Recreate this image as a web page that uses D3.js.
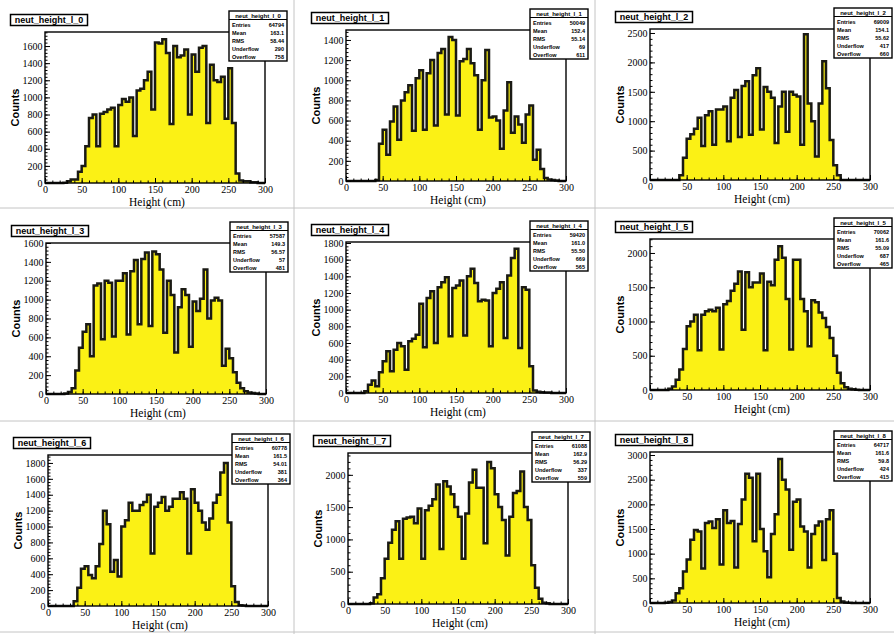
<!DOCTYPE html>
<html><head><meta charset="utf-8">
<script src="https://cdn.jsdelivr.net/npm/d3@7/dist/d3.min.js"></script>
<style>
body{margin:0;background:#fff;}
svg{display:block;}
</style></head><body>
<svg id="c" width="894" height="634"></svg>
<script>
// ---- data (bins of 5 cm from 0 to 300 cm) ----
const xDomain = [0, 300];
const xTickLabels = [0, 50, 100, 150, 200, 250, 300];
const histNames = ["neut_height_l_0","neut_height_l_1","neut_height_l_2","neut_height_l_3","neut_height_l_4","neut_height_l_5","neut_height_l_6","neut_height_l_7","neut_height_l_8"];
const counts0 = [0,0,0,0,0,3,20,40,40,130, 200,430,760,800,430, 810,830,860,880,430, 910,980,950,1000,550, 1080,1100,1200,1300,860, 1640,1630,1680,1520,690, 1600,1470,1490,1560,800, 1500,1300,1580,1600,700, 1380,1200,1180,1240,750, 1340,700,110,30,20, 20,10,10,0,0];
const counts1 = [0,0,0,0,0,0,0,0,10,370, 510,260,590,740,410, 800,880,950,500,1020, 1100,510,1070,1200,550, 1270,1310,660,1430,1400, 650,1190,1210,1310,1170, 1050,510,1000,1300,630, 640,600,320,700,980, 480,640,560,380,660, 750,210,310,120,30, 15,10,5,0,0];
const counts2 = [0,0,0,0,0,0,0,0,80,380, 700,780,870,1060,580, 1100,1170,600,1200,1200, 1250,660,1400,1530,730, 1600,1680,770,1780,1900, 860,1580,1500,1400,630, 1250,1500,820,1500,1450, 1420,600,2480,1300,1000, 400,1300,2020,1560,680, 250,80,0,0,0, 0,0,0,0,0];
const counts3 = [0,0,0,0,0,5,20,60,250,490, 660,740,400,1150,1170, 580,1200,1180,610,1200, 1200,1280,630,1300,1420, 740,1430,1500,720,1510, 1480,1320,650,1200,1050, 440,920,1110,1050,500, 980,880,1010,1320,800, 990,1020,990,300,480, 380,230,120,60,30, 15,10,5,0,0];
const counts4 = [0,0,0,0,0,20,100,150,80,250, 380,500,260,520,600, 560,280,620,650,700, 1070,550,1140,1220,600, 1270,1330,1390,680,1260, 1290,1350,690,1400,1490, 1320,1100,1120,1110,560, 1200,1250,1330,660,1410, 1620,1730,540,1270,1240, 320,30,15,10,5, 5,0,0,0,0];
const counts5 = [0,0,0,0,0,20,50,150,300,600, 930,1000,1100,580,1100, 1150,1170,1150,1200,590, 1250,1300,1450,1550,1730, 880,1720,1500,1570,1570, 1700,580,1580,1530,1900, 2100,1930,1330,590,1900, 1900,1330,1150,640,1310, 1280,1130,1050,920,760, 500,250,100,40,20, 10,5,0,0,0];
const counts6 = [0,0,0,0,0,0,0,60,230,470, 500,390,350,500,780, 1200,1030,430,580,370, 1000,1080,1300,1200,1200, 1270,1310,1400,660,1250, 1300,1370,1200,1250,1350, 1350,1430,1350,660,1470, 1300,1200,1050,960,1100, 1300,1400,1680,1800,1050, 250,50,10,5,0, 0,0,0,0,0];
const counts7 = [0,0,0,0,0,0,10,100,150,400, 700,950,1150,1280,700, 1320,1340,1350,1250,1480, 700,1450,1520,1620,1850, 850,1900,1820,1700,1500, 1350,700,1400,1880,2080, 1800,1800,940,2200,2100, 1700,1500,1300,750,1350, 1720,1750,2050,1500,1300, 600,250,80,20,10, 0,0,0,0,0];
const counts8 = [0,0,0,0,5,20,50,200,300,640, 880,1280,1480,1450,700, 1620,1650,1520,1700,780, 1880,1620,1660,720,1600, 2100,2620,2540,1250,2620, 1500,1050,520,1400,1800, 2920,2500,2300,1080,2050, 2100,1550,1450,720,1400, 1570,1650,870,1700,1880, 1000,100,30,10,5, 0,0,0,0,0];
const yAxisMax = [1764, 1499, 2568, 1600, 1812, 2204, 1900, 2338, 3061];
const yTickStep = [200, 200, 500, 200, 200, 500, 200, 500, 500];
const statLabels = ["Entries", "Mean", "RMS", "Underflow", "Overflow"];
const statEntries = ["64794", "50049", "69009", "57587", "59420", "70062", "60778", "61088", "64717"];
const statMean = ["163.1", "152.4", "154.1", "149.3", "161.0", "161.6", "161.5", "162.9", "161.6"];
const statRMS = ["58.44", "55.14", "55.62", "56.57", "55.50", "55.09", "54.01", "56.29", "59.8"];
const statUnder = ["290", "69", "417", "57", "669", "687", "381", "337", "424"];
const statOver = ["758", "611", "660", "481", "565", "465", "364", "559", "415"];

// ---- layout ----
const frames = [[45,32],[346,30],[650,29],[46,243],[346,242],[650,239],[48,455],[348,453],[650,452]];
const FW = 220, FH = 151;
const YELLOW = "#fbf115";
const allCounts = [counts0,counts1,counts2,counts3,counts4,counts5,counts6,counts7,counts8];

const svg = d3.select("#c");
svg.append("rect").attr("width",894).attr("height",634).attr("fill","#fff");

// pad borders
const padLines = svg.append("g").attr("stroke","#c4c4c4").attr("stroke-width",1);
[[294,0,294,634],[595,0,595,634],[0,208,894,208],[0,421,894,421],[0,632,894,632]].forEach(l=>{
  padLines.append("line").attr("x1",l[0]).attr("y1",l[1]).attr("x2",l[2]).attr("y2",l[3]);
});

allCounts.forEach((counts, p) => {
  const [fx, fy] = frames[p];
  const g = svg.append("g").attr("transform", `translate(${fx},${fy})`);
  const x = d3.scaleLinear().domain(xDomain).range([0, FW]);
  const y = d3.scaleLinear().domain([0, yAxisMax[p]]).range([FH, 0]);
  const bw = (xDomain[1]-xDomain[0]) / counts.length;
  const pts = [];
  counts.forEach((v, i) => { pts.push([xDomain[0]+i*bw, v]); pts.push([xDomain[0]+(i+1)*bw, v]); });

  g.append("path").datum(pts)
    .attr("d", d3.area().x(d=>x(d[0])).y0(y(0)).y1(d=>y(d[1])))
    .attr("fill", YELLOW);
  g.append("path").datum([[xDomain[0],0], ...pts, [xDomain[1],0]])
    .attr("d", d3.line().x(d=>x(d[0])).y(d=>y(d[1])))
    .attr("fill","none").attr("stroke","#1a1a14").attr("stroke-width",2.5).attr("stroke-linejoin","miter");

  // x axis
  const xa = g.append("g").attr("transform", `translate(0,${FH})`)
    .call(d3.axisBottom(x).tickValues(xTickLabels).tickSize(-5).tickPadding(2.5).tickFormat(d3.format("d")));
  const xm = g.append("g").attr("transform", `translate(0,${FH})`)
    .call(d3.axisBottom(x).tickValues(d3.range(0, 301, 10)).tickSize(-2.5).tickFormat(""));
  // y axis
  const yt = d3.range(0, yAxisMax[p] + 1, yTickStep[p]);
  const ya = g.append("g")
    .call(d3.axisLeft(y).tickValues(yt).tickSize(-5).tickPadding(2.5).tickFormat(d3.format("d")));
  const ym = g.append("g")
    .call(d3.axisLeft(y).tickValues(d3.range(0, yAxisMax[p], yTickStep[p]/5)).tickSize(-2.5).tickFormat(""));
  [xa, xm, ya, ym].forEach(a => {
    a.select(".domain").remove();
    a.selectAll("line").attr("stroke","#000").attr("stroke-width",1);
    a.selectAll("text").attr("font-family","'Liberation Serif', serif").attr("font-size",10).attr("fill","#000");
  });

  // frame
  g.append("rect").attr("width",FW).attr("height",FH).attr("fill","none").attr("stroke","#000").attr("stroke-width",1.4);

  // axis titles
  g.append("text").attr("x",112).attr("y",FH+23).attr("text-anchor","middle")
    .attr("font-family","'Liberation Serif', serif").attr("font-size",11.5).text("Height (cm)");
  g.append("text").attr("transform",`translate(-26,${FH/2}) rotate(-90)`).attr("text-anchor","middle")
    .attr("font-family","'Liberation Sans', Arial, sans-serif").attr("font-weight","bold").attr("font-size",11).text("Counts");

  // title box
  const tb = g.append("g").attr("transform","translate(-34.5,-17.5)");
  tb.append("rect").attr("width",77).attr("height",11).attr("fill","#fff").attr("stroke","#000").attr("stroke-width",1.5);
  tb.append("text").attr("x",38.5).attr("y",8.8).attr("text-anchor","middle")
    .attr("font-family","'Liberation Sans', Arial, sans-serif").attr("font-weight","bold").attr("font-size",9).text(histNames[p]);

  // stats box
  const sb = g.append("g").attr("transform","translate(184,-21)");
  sb.append("rect").attr("width",58).attr("height",50).attr("fill","#fff").attr("stroke","#000").attr("stroke-width",1.4);
  sb.append("line").attr("x1",0).attr("x2",58).attr("y1",8.5).attr("y2",8.5).attr("stroke","#000").attr("stroke-width",1);
  sb.append("text").attr("x",29).attr("y",6.6).attr("text-anchor","middle")
    .attr("font-family","'Liberation Sans', Arial, sans-serif").attr("font-weight","bold").attr("font-size",6).text(histNames[p]);
  const vals = [statEntries[p], statMean[p], statRMS[p], statUnder[p], statOver[p]];
  statLabels.forEach((lab, i) => {
    const yy = 15.5 + i*8.2;
    sb.append("text").attr("x",3).attr("y",yy)
      .attr("font-family","'Liberation Sans', Arial, sans-serif").attr("font-weight","bold").attr("font-size",5.5).text(lab);
    sb.append("text").attr("x",55).attr("y",yy).attr("text-anchor","end")
      .attr("font-family","'Liberation Sans', Arial, sans-serif").attr("font-weight","bold").attr("font-size",5.5).text(vals[i]);
  });
});
</script>
</body></html>
